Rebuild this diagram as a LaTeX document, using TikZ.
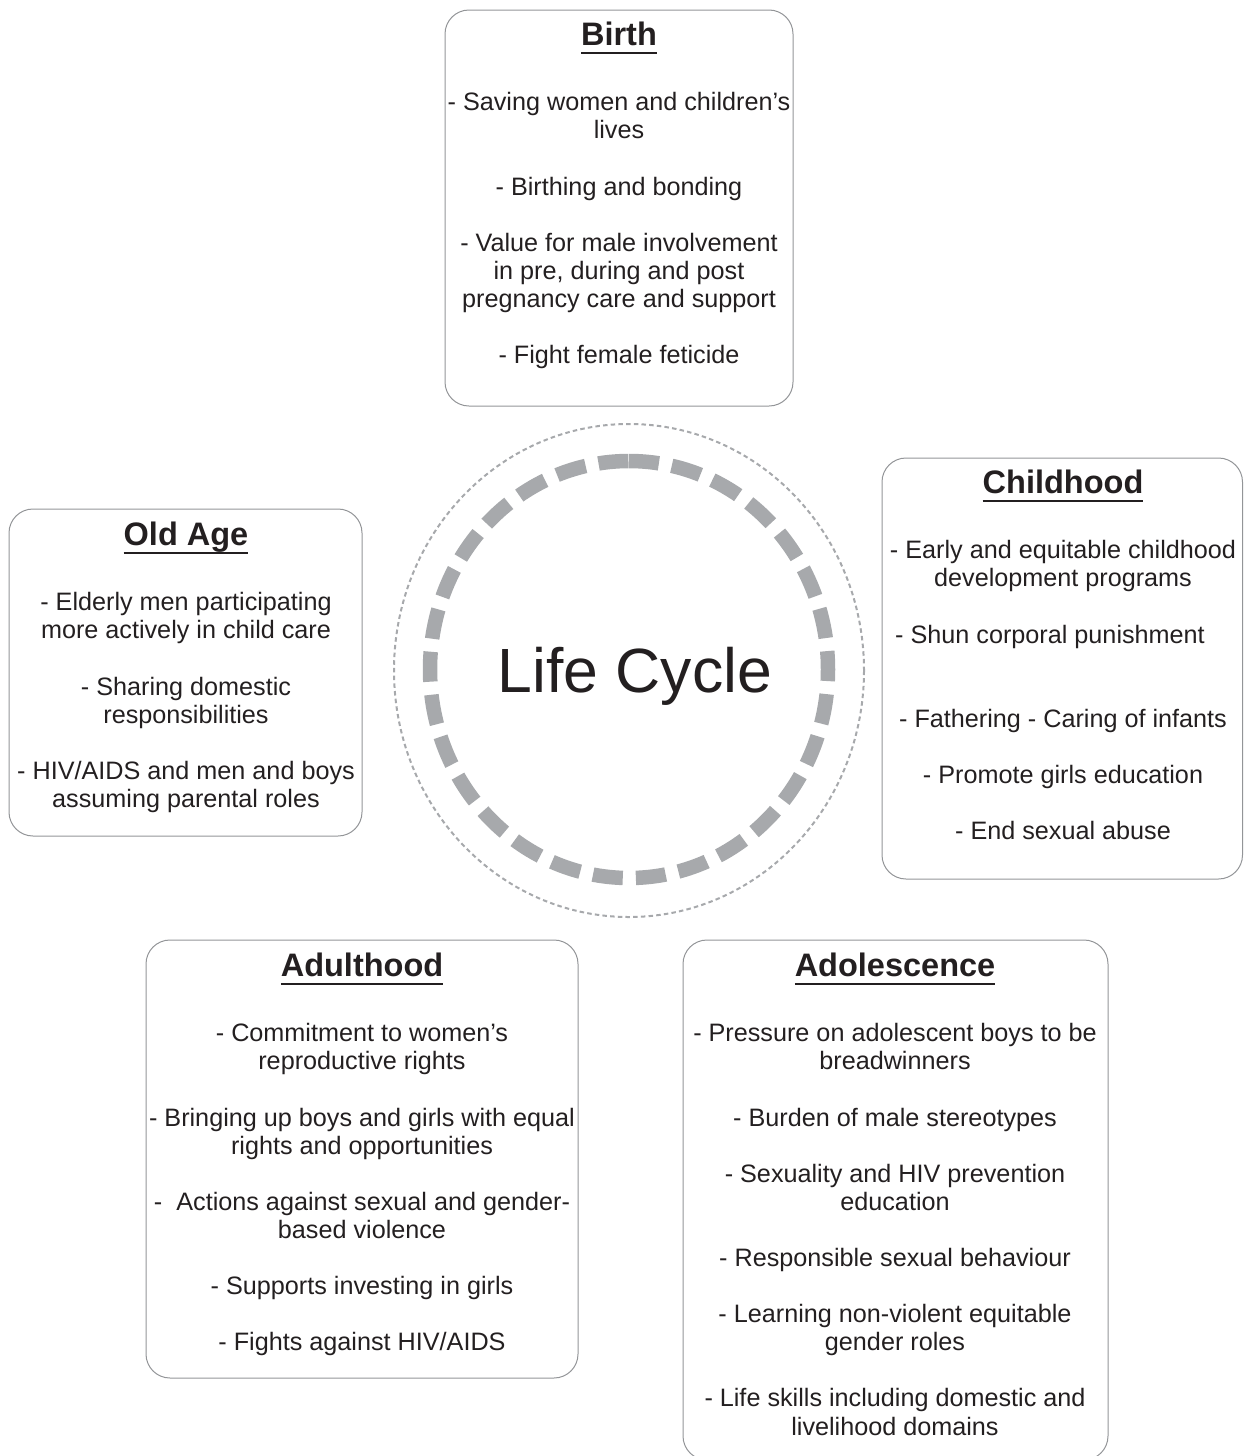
\documentclass[tikz,border=0pt]{standalone}
\usepackage{fontspec}
\setmainfont{Liberation Sans}
\definecolor{txt}{HTML}{231F20}
\definecolor{boxgray}{HTML}{939598}
\definecolor{ringgray}{HTML}{A7A9AC}
\newcommand\firstline{\rule{0pt}{20pt}}
\newcommand\titleul[1]{\setbox0\hbox{#1}\leavevmode\rlap{\rule[-9pt]{\wd0}{2.4pt}}\box0}
\tikzset{
  box/.style={draw=boxgray, line width=1pt, rounded corners=24pt, rectangle, inner sep=0pt},
  title/.style={font=\fontsize{32.5}{36}\selectfont\bfseries, text=txt, anchor=base, inner sep=0pt},
  body/.style={font=\fontsize{25.2}{28.15}\selectfont, text=txt, align=center, anchor=north, inner sep=0pt},
  ringdash/.style={draw=ringgray, line width=14.5pt, dash pattern=on 30pt off 13.1pt},
  ringdot/.style={draw=ringgray, line width=2pt, dash pattern=on 4.5pt off 3.2pt},
}
\begin{document}
\begin{tikzpicture}[x=1pt,y=-1pt]
\useasboundingbox (0,0) rectangle (1243,1456);
% circle
\coordinate (ringtop) at (629,461);
\draw[ringdot] (629,670.5) ellipse[x radius=235, y radius=246.5];
\draw[ringdash] (ringtop) arc[start angle=-90, end angle=270, x radius=199, y radius=208.5];
\node[font=\fontsize{62.5}{70}\selectfont, text=txt, anchor=base, inner sep=0pt] (lc) at (635,692) {Life Cycle};
% boxes
\node[box, minimum width=348pt, minimum height=396pt] (birthbox) at (619,208) {};
\node[box, minimum width=360.5pt, minimum height=421pt] (childbox) at (1062.25,668.5) {};
\node[box, minimum width=353pt, minimum height=327pt] (oldbox) at (185.5,672.5) {};
\node[box, minimum width=432pt, minimum height=438pt] (adultbox) at (362,1159) {};
\node[box, minimum width=425pt, minimum height=520pt] (adolbox) at (895.5,1200) {};
% titles
\node[title] (birthtitle) at (619,45) {\titleul{Birth}};
\node[title] (childtitle) at (1063,493) {\titleul{Childhood}};
\node[title] (oldtitle) at (186,545) {\titleul{Old Age}};
\node[title] (adulttitle) at (362,976) {\titleul{Adulthood}};
\node[title] (adoltitle) at (895,976) {\titleul{Adolescence}};
% bodies
\node[body] (birthtext) at (619,90.5) {\firstline- Saving women and children’s\\lives\\[28pt]- Birthing and bonding\\[28pt]- Value for male involvement\\in pre, during and post\\pregnancy care and support\\[28pt]- Fight female feticide};
\node[body] (childtext) at (1063,538.5) {\firstline- Early and equitable childhood\\development programs\\[28pt]- Shun corporal punishment\kern26pt\\[56pt]- Fathering - Caring of infants\\[28pt]- Promote girls education\\[28pt]- End sexual abuse};
\node[body] (oldtext) at (186,590.5) {\firstline- Elderly men participating\\more actively in child care\\[28pt]- Sharing domestic\\responsibilities\\[28pt]- HIV/AIDS and men and boys\\assuming parental roles};
\node[body] (adulttext) at (362,1021.5) {\firstline- Commitment to women’s\\reproductive rights\\[28pt]- Bringing up boys and girls with equal\\rights and opportunities\\[28pt]-\ \ Actions against sexual and gender-\\based violence\\[28pt]- Supports investing in girls\\[28pt]- Fights against HIV/AIDS};
\node[body] (adoltext) at (895,1021.5) {\firstline- Pressure on adolescent boys to be\\breadwinners\\[28pt]- Burden of male stereotypes\\[28pt]- Sexuality and HIV prevention\\education\\[28pt]- Responsible sexual behaviour\\[28pt]- Learning non-violent equitable\\gender roles\\[28pt]- Life skills including domestic and\\livelihood domains};
\end{tikzpicture}
\end{document}
